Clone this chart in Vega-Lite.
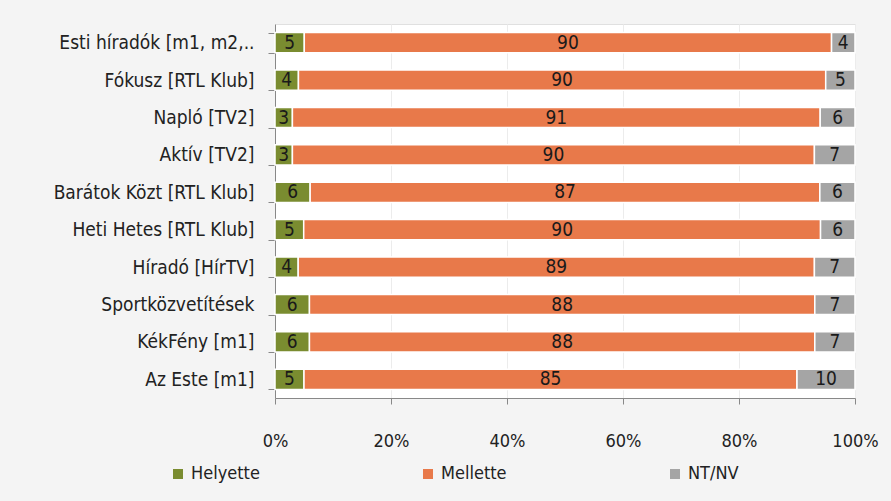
{
  "$schema": "https://vega.github.io/schema/vega-lite/v6.json",
  "autosize": {"type": "none"},
  "width": 580,
  "height": 374,
  "padding": {"left": 275, "top": 24, "right": 36, "bottom": 103},
  "background": "#f4f4f4",
  "config": {
    "view": {"fill": "white", "stroke": "#e0e0e0"},
    "font": "DejaVu Sans Condensed, Liberation Sans, sans-serif"
  },
  "data": {
    "values": [
      {"cat": "Esti híradók [m1, m2,..", "series": "Helyette", "v": 5},
      {"cat": "Esti híradók [m1, m2,..", "series": "Mellette", "v": 90},
      {"cat": "Esti híradók [m1, m2,..", "series": "NT/NV", "v": 4},
      {"cat": "Fókusz [RTL Klub]", "series": "Helyette", "v": 4},
      {"cat": "Fókusz [RTL Klub]", "series": "Mellette", "v": 90},
      {"cat": "Fókusz [RTL Klub]", "series": "NT/NV", "v": 5},
      {"cat": "Napló [TV2]", "series": "Helyette", "v": 3},
      {"cat": "Napló [TV2]", "series": "Mellette", "v": 91},
      {"cat": "Napló [TV2]", "series": "NT/NV", "v": 6},
      {"cat": "Aktív [TV2]", "series": "Helyette", "v": 3},
      {"cat": "Aktív [TV2]", "series": "Mellette", "v": 90},
      {"cat": "Aktív [TV2]", "series": "NT/NV", "v": 7},
      {"cat": "Barátok Közt [RTL Klub]", "series": "Helyette", "v": 6},
      {"cat": "Barátok Közt [RTL Klub]", "series": "Mellette", "v": 87},
      {"cat": "Barátok Közt [RTL Klub]", "series": "NT/NV", "v": 6},
      {"cat": "Heti Hetes [RTL Klub]", "series": "Helyette", "v": 5},
      {"cat": "Heti Hetes [RTL Klub]", "series": "Mellette", "v": 90},
      {"cat": "Heti Hetes [RTL Klub]", "series": "NT/NV", "v": 6},
      {"cat": "Híradó [HírTV]", "series": "Helyette", "v": 4},
      {"cat": "Híradó [HírTV]", "series": "Mellette", "v": 89},
      {"cat": "Híradó [HírTV]", "series": "NT/NV", "v": 7},
      {"cat": "Sportközvetítések", "series": "Helyette", "v": 6},
      {"cat": "Sportközvetítések", "series": "Mellette", "v": 88},
      {"cat": "Sportközvetítések", "series": "NT/NV", "v": 7},
      {"cat": "KékFény [m1]", "series": "Helyette", "v": 6},
      {"cat": "KékFény [m1]", "series": "Mellette", "v": 88},
      {"cat": "KékFény [m1]", "series": "NT/NV", "v": 7},
      {"cat": "Az Este [m1]", "series": "Helyette", "v": 5},
      {"cat": "Az Este [m1]", "series": "Mellette", "v": 85},
      {"cat": "Az Este [m1]", "series": "NT/NV", "v": 10}
    ]
  },
  "encoding": {
    "y": {
      "field": "cat", "type": "nominal", "sort": null, "title": null,
      "scale": {"paddingInner": 0.46, "paddingOuter": 0.23},
      "axis": {
        "labelFontSize": 19, "labelColor": "#222", "labelPadding": 14, "labelLimit": 300,
        "domainColor": "#888", "tickColor": "#888", "tickSize": 7, "tickBand": "extent"
      }
    }
  },
  "layer": [
    {
      "mark": {"type": "bar", "stroke": "white", "strokeWidth": 1.5},
      "encoding": {
        "x": {
          "field": "v", "type": "quantitative", "title": null, "stack": "normalize",
          "scale": {"domain": [0, 1], "nice": false},
          "axis": {
            "format": "%", "values": [0, 0.2, 0.4, 0.6, 0.8, 1],
            "labelFontSize": 18, "labelColor": "#222", "labelPadding": 28,
            "domainColor": "#888", "tickColor": "#888", "tickSize": 6,
            "gridColor": "#ececec", "labelFlush": false
          }
        },
        "color": {
          "field": "series", "type": "nominal", "title": null,
          "scale": {"domain": ["Helyette", "Mellette", "NT/NV"], "range": ["#7a8c30", "#e8794a", "#a5a5a5"]},
          "legend": {
            "orient": "none", "legendX": -106, "legendY": 441, "direction": "horizontal",
            "columns": 3, "columnPadding": 159, "symbolType": "square", "symbolSize": 100,
            "symbolStrokeWidth": 0, "labelFontSize": 18, "labelColor": "#222", "labelOffset": 4
          }
        },
        "order": {"field": "series", "sort": "ascending"}
      }
    },
    {
      "mark": {"type": "text", "fontSize": 19, "color": "#1a1a1a", "baseline": "middle"},
      "encoding": {
        "x": {"field": "v", "type": "quantitative", "stack": "normalize", "bandPosition": 0.5},
        "detail": {"field": "series", "type": "nominal"},
        "order": {"field": "series", "sort": "ascending"},
        "text": {"field": "v", "type": "quantitative"}
      }
    }
  ]
}
